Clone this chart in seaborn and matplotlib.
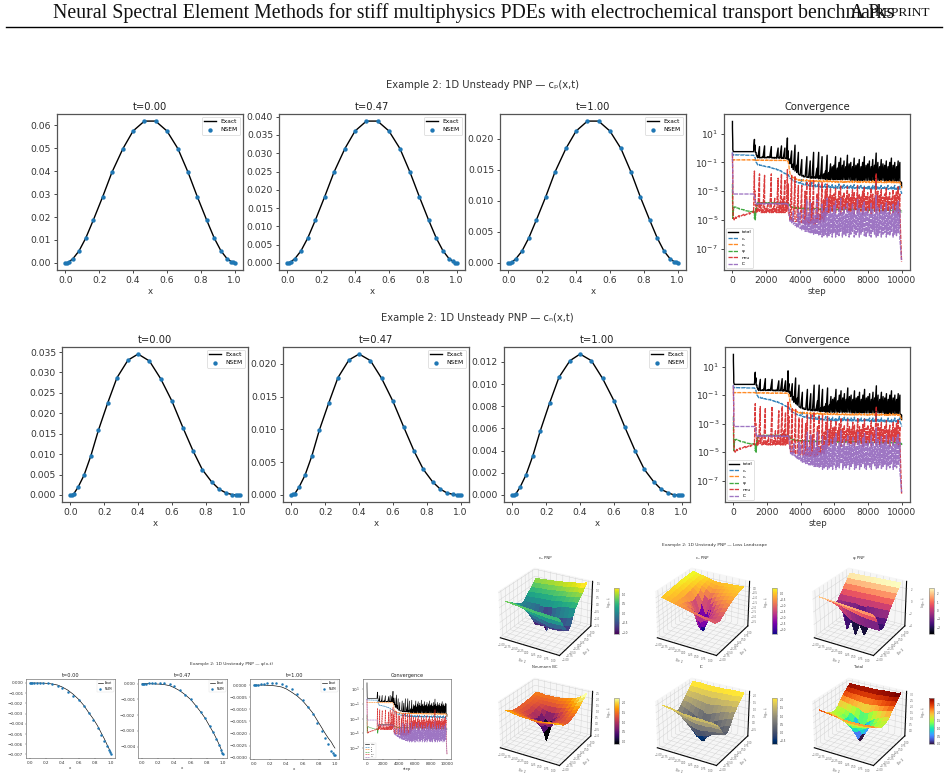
import numpy as np
import matplotlib
matplotlib.use("Agg")
import matplotlib.pyplot as plt
import seaborn as sns
from mpl_toolkits.mplot3d import Axes3D  # noqa: F401

WIDTH, HEIGHT = 948, 777

# ---- solution profiles -------------------------------------------------
x_nodes = [0.0, 0.01, 0.02, 0.045, 0.08, 0.12, 0.165, 0.22, 0.275, 0.34, 0.40, 0.467,
           0.533, 0.60, 0.665, 0.725, 0.78, 0.835, 0.88, 0.92, 0.955, 0.98, 0.99, 1.0]

cp_t0 = [0.0, 0.0001, 0.0004, 0.0019, 0.0052, 0.0108, 0.0187, 0.0288, 0.0395, 0.0498, 0.0575, 0.0618,
         0.0618, 0.0575, 0.0498, 0.0395, 0.0288, 0.0187, 0.0108, 0.0052, 0.0019, 0.0006, 0.0002, 0.0]
cp_t1 = [0.0, 0.0001, 0.0003, 0.0012, 0.0033, 0.0068, 0.0117, 0.0181, 0.0248, 0.0313, 0.0361, 0.0388,
         0.0388, 0.0361, 0.0313, 0.0248, 0.0181, 0.0117, 0.0068, 0.0033, 0.0012, 0.0004, 0.0001, 0.0]
cp_t2 = [0.0, 0.0, 0.0001, 0.0007, 0.0019, 0.004, 0.0069, 0.0106, 0.0146, 0.0184, 0.0212, 0.0228,
         0.0228, 0.0212, 0.0184, 0.0146, 0.0106, 0.0069, 0.004, 0.0019, 0.0007, 0.0002, 0.0001, 0.0]

cn_t0 = [0.0, 0.0001, 0.0003, 0.0019, 0.0048, 0.0095, 0.0158, 0.0225, 0.0287, 0.033, 0.0345, 0.0328,
         0.0285, 0.023, 0.0165, 0.0108, 0.0062, 0.0032, 0.0014, 0.0005, 0.0001, 0.0, 0.0, 0.0]
cn_t1 = [0.0, 0.0001, 0.0002, 0.0012, 0.003, 0.0059, 0.0099, 0.014, 0.0179, 0.0206, 0.0215, 0.0205,
         0.0178, 0.0143, 0.0103, 0.0067, 0.0039, 0.002, 0.0009, 0.0003, 0.0001, 0.0, 0.0, 0.0]
cn_t2 = [0.0, 0.0, 0.0001, 0.0007, 0.0018, 0.0035, 0.0058, 0.0083, 0.0106, 0.0121, 0.0127, 0.0121,
         0.0105, 0.0085, 0.0061, 0.004, 0.0023, 0.0012, 0.0005, 0.0002, 0.0, 0.0, 0.0, 0.0]

phi_exact_t0 = [0.0, 0.0, 0.0, 0.0, 0.0, 0.0, -0.00001, -0.00004, -0.0001, -0.0002, -0.0004, -0.0007,
                -0.0011, -0.0016, -0.0022, -0.0029, -0.0035, -0.0042, -0.0049, -0.0055, -0.0061, -0.0065, -0.0067, -0.0069]
phi_nsem_t0 = [0.00002, 0.00002, 0.00002, 0.00003, 0.00004, 0.00004, 0.00003, 0.0, -0.0001, -0.00025, -0.0005, -0.0009,
               -0.0013, -0.0017, -0.0023, -0.0029, -0.0036, -0.0044, -0.0051, -0.0057, -0.0062, -0.0066, -0.0068, -0.0070]
phi_exact_t1 = [0.0, 0.0, 0.0, 0.0, 0.0, -0.00001, -0.00002, -0.00003, -0.00006, -0.00012, -0.00026, -0.00045,
                -0.0007, -0.0010, -0.0014, -0.0018, -0.0022, -0.0027, -0.0031, -0.0035, -0.0039, -0.0042, -0.0044, -0.0045]
phi_nsem_t1 = [0.0, 0.0, 0.0, 0.00001, 0.00002, 0.00004, 0.00006, 0.00007, 0.00006, 0.0, -0.00016, -0.0004,
               -0.0007, -0.0010, -0.0014, -0.0018, -0.0022, -0.0027, -0.0031, -0.0035, -0.0039, -0.0042, -0.0044, -0.0045]
phi_exact_t2 = [0.0, 0.0, 0.0, 0.0, 0.0, 0.0, -0.00001, -0.00002, -0.00004, -0.00008, -0.00016, -0.0003,
                -0.00045, -0.00065, -0.0009, -0.00115, -0.00145, -0.00175, -0.002, -0.0022, -0.00235, -0.00250, -0.00255, -0.0026]
phi_nsem_t2 = [0.0, 0.0, 0.0, 0.00001, 0.00003, 0.00005, 0.00007, 0.00009, 0.0001, 0.00006, -0.00005, -0.00016,
               -0.00035, -0.0006, -0.0009, -0.0012, -0.00155, -0.0019, -0.0022, -0.00245, -0.0027, -0.0028, -0.0029, -0.0029]

# ---- training history (log10 of each loss, upper and lower envelope) ----
steps = [0, 20, 50, 100, 200, 400, 700, 1000, 1250, 1300,
         1350, 1400, 1450, 1500, 1600, 1700, 1800, 1900, 2000, 2100,
         2200, 2300, 2400, 2500, 2600, 2700, 2800, 2900, 3000, 3100,
         3200, 3250, 3300, 3350, 3400, 3500, 3600, 3700, 3800, 3900,
         4000, 4100, 4200, 4300, 4400, 4500, 4600, 4700, 4800, 4900,
         5000, 5100, 5200, 5300, 5400, 5500, 5600, 5700, 5800, 5900,
         6000, 6100, 6200, 6300, 6400, 6500, 6600, 6700, 6800, 6900,
         7000, 7100, 7200, 7300, 7400, 7500, 7600, 7700, 7800, 7900,
         8000, 8100, 8200, 8300, 8400, 8500, 8600, 8700, 8800, 8900,
         9000, 9100, 9200, 9300, 9400, 9500, 9600, 9700, 9800, 9900,
         10000]

total_hi = [1.85, 0.3, -0.25, -0.25, -0.25, -0.25, -0.25, -0.25, -0.25, 0.6,
            0.2, -0.3, -0.55, -0.65, 0.1, -0.65, -0.6, 0.15, -0.65, -0.6,
            -0.6, 0.1, -0.65, -0.65, -0.65, 0.0, -0.65, 0.15, -0.65, 0.0,
            -0.7, 0.7, -0.2, -0.75, -0.9, -0.2, -1.1, 0.2, -1.2, -0.3,
            -1.9, -0.8, -1.9, -2.0, -0.6, -2.0, -0.9, -2.0, -0.3, -2.0,
            -1.4, -0.3, -1.9, -0.6, -1.8, -1.6, -0.5, -1.7, -1.1, -1.3,
            -1.2, -0.6, -1.4, -1.0, -0.7, -1.2, -0.9, -1.3, -0.5, -1.1,
            -1.0, -1.3, -0.7, -1.2, -1.1, -0.8, -1.3, -1.0, -0.6, -1.2,
            -1.1, -0.9, -1.3, -0.8, -1.2, -0.35, -1.0, -1.3, -0.8, -1.1,
            -1.2, -0.9, -1.3, -1.0, -0.7, -1.2, -1.0, -1.3, -0.9, -1.0,
            -2.4]
total_lo = [1.4, -0.1, -0.25, -0.25, -0.25, -0.25, -0.25, -0.25, -0.25, -0.1,
            -0.3, -0.45, -0.6, -0.68, -0.68, -0.68, -0.68, -0.68, -0.68, -0.68,
            -0.68, -0.68, -0.7, -0.7, -0.7, -0.7, -0.7, -0.72, -0.72, -0.72,
            -0.75, -0.75, -0.8, -0.9, -1.1, -1.35, -1.5, -1.6, -1.7, -1.8,
            -1.9, -1.95, -2.0, -2.0, -2.05, -2.05, -2.1, -2.1, -2.1, -2.1,
            -2.1, -2.15, -2.15, -2.15, -2.15, -2.2, -2.2, -2.2, -2.2, -2.2,
            -2.2, -2.2, -2.2, -2.2, -2.2, -2.2, -2.2, -2.2, -2.2, -2.2,
            -2.25, -2.25, -2.25, -2.25, -2.25, -2.25, -2.25, -2.25, -2.25, -2.25,
            -2.25, -2.25, -2.25, -2.25, -2.25, -2.25, -2.25, -2.25, -2.25, -2.25,
            -2.3, -2.3, -2.3, -2.3, -2.3, -2.3, -2.3, -2.3, -2.3, -2.3,
            -2.7]

cp_hi = [-0.3, -0.45, -0.47, -0.47, -0.47, -0.48, -0.48, -0.5, -0.5, -0.55,
         -0.7, -0.9, -1.05, -1.15, -1.15, -1.2, -1.2, -1.25, -1.3, -1.3,
         -1.3, -1.35, -1.4, -1.45, -1.45, -1.5, -1.55, -1.6, -1.7, -1.75,
         -1.8, -1.85, -1.85, -1.95, -2.05, -2.15, -2.25, -2.3, -2.35, -2.4,
         -2.4, -2.2, -2.5, -2.55, -2.3, -2.55, -2.6, -2.4, -2.6, -2.55,
         -2.65, -2.4, -2.65, -2.6, -2.7, -2.5, -2.7, -2.6, -2.7, -2.55,
         -2.7, -2.6, -2.7, -2.5, -2.7, -2.65, -2.55, -2.7, -2.6, -2.7,
         -2.6, -2.7, -2.55, -2.75, -2.65, -2.7, -2.6, -2.75, -2.65, -2.7,
         -2.7, -2.6, -2.75, -2.6, -2.7, -2.4, -2.7, -2.75, -2.6, -2.75,
         -2.7, -2.75, -2.6, -2.8, -2.7, -2.75, -2.6, -2.8, -2.7, -2.6,
         -3.1]
cp_lo = [-0.4, -0.47, -0.48, -0.48, -0.48, -0.49, -0.5, -0.5, -0.52, -0.6,
         -0.8, -1.0, -1.1, -1.18, -1.2, -1.22, -1.25, -1.27, -1.3, -1.33,
         -1.35, -1.38, -1.42, -1.47, -1.5, -1.55, -1.58, -1.65, -1.72, -1.78,
         -1.82, -1.88, -1.9, -2.0, -2.1, -2.2, -2.28, -2.33, -2.38, -2.43,
         -2.45, -2.5, -2.55, -2.58, -2.6, -2.62, -2.65, -2.67, -2.68, -2.7,
         -2.7, -2.72, -2.73, -2.74, -2.75, -2.76, -2.77, -2.78, -2.78, -2.79,
         -2.8, -2.8, -2.8, -2.8, -2.8, -2.8, -2.8, -2.8, -2.8, -2.8,
         -2.82, -2.82, -2.82, -2.82, -2.82, -2.82, -2.82, -2.82, -2.82, -2.82,
         -2.85, -2.85, -2.85, -2.85, -2.85, -2.85, -2.85, -2.85, -2.85, -2.85,
         -2.88, -2.88, -2.88, -2.88, -2.88, -2.88, -2.88, -2.88, -2.88, -2.88,
         -3.2]

cn_hi = [-0.75, -0.8, -0.82, -0.82, -0.82, -0.82, -0.82, -0.82, -0.82, -0.82,
         -0.83, -0.83, -0.84, -0.84, -0.84, -0.84, -0.84, -0.84, -0.84, -0.84,
         -0.85, -0.85, -0.85, -0.85, -0.85, -0.85, -0.85, -0.85, -0.85, -0.85,
         -0.86, -0.88, -0.95, -1.3, -1.75, -1.95, -2.05, -2.1, -2.15, -2.2,
         -2.2, -2.25, -2.2, -2.27, -2.2, -2.28, -2.22, -2.28, -2.24, -2.3,
         -2.25, -2.3, -2.22, -2.3, -2.25, -2.32, -2.24, -2.3, -2.27, -2.33,
         -2.28, -2.33, -2.25, -2.34, -2.3, -2.28, -2.35, -2.27, -2.33, -2.3,
         -2.35, -2.28, -2.34, -2.3, -2.36, -2.27, -2.33, -2.36, -2.3, -2.34,
         -2.36, -2.3, -2.35, -2.28, -2.36, -2.2, -2.33, -2.36, -2.28, -2.35,
         -2.37, -2.3, -2.36, -2.28, -2.38, -2.3, -2.36, -2.32, -2.38, -2.34,
         -2.7]
cn_lo = [-0.8, -0.82, -0.83, -0.83, -0.83, -0.83, -0.83, -0.83, -0.83, -0.84,
         -0.85, -0.85, -0.85, -0.85, -0.86, -0.86, -0.86, -0.86, -0.86, -0.86,
         -0.87, -0.87, -0.87, -0.87, -0.87, -0.87, -0.87, -0.87, -0.87, -0.87,
         -0.88, -0.9, -1.0, -1.4, -1.8, -2.0, -2.1, -2.15, -2.2, -2.25,
         -2.27, -2.28, -2.29, -2.3, -2.3, -2.31, -2.32, -2.32, -2.33, -2.33,
         -2.34, -2.34, -2.35, -2.35, -2.35, -2.36, -2.36, -2.36, -2.37, -2.37,
         -2.37, -2.38, -2.38, -2.38, -2.38, -2.39, -2.39, -2.39, -2.39, -2.39,
         -2.4, -2.4, -2.4, -2.4, -2.4, -2.4, -2.4, -2.4, -2.4, -2.4,
         -2.41, -2.41, -2.41, -2.41, -2.41, -2.41, -2.41, -2.41, -2.41, -2.41,
         -2.42, -2.42, -2.42, -2.42, -2.42, -2.42, -2.42, -2.42, -2.42, -2.42,
         -2.8]

psi_hi = [-2.5, -4.8, -4.3, -4.1, -4.1, -4.2, -4.3, -4.4, -4.4, -4.5,
          -4.4, -4.2, -3.9, -3.8, -3.8, -3.8, -3.8, -3.8, -3.8, -3.8,
          -3.8, -3.8, -3.8, -3.8, -3.8, -3.8, -3.8, -3.8, -3.8, -3.8,
          -3.8, -3.8, -3.85, -3.9, -4.0, -4.1, -4.1, -4.15, -4.15, -4.15,
          -4.18, -4.18, -4.18, -4.2, -4.2, -4.2, -4.2, -4.2, -4.22, -4.22,
          -4.2, -4.22, -4.24, -4.2, -4.24, -4.22, -4.25, -4.22, -4.25, -4.25,
          -4.25, -4.25, -4.25, -4.25, -4.25, -4.25, -4.25, -4.25, -4.25, -4.25,
          -4.25, -4.25, -4.25, -4.25, -4.25, -4.25, -4.25, -4.25, -4.25, -4.25,
          -4.3, -4.3, -4.3, -4.3, -4.3, -4.3, -4.3, -4.3, -4.3, -4.3,
          -4.3, -4.3, -4.3, -4.3, -4.3, -4.3, -4.3, -4.3, -4.3, -4.3,
          -4.4]
psi_lo = [-3.0, -4.9, -4.4, -4.15, -4.15, -4.25, -4.35, -4.45, -4.5, -4.9,
          -5.0, -4.4, -4.0, -3.85, -3.85, -3.85, -3.85, -3.85, -3.85, -3.85,
          -3.85, -3.85, -3.85, -3.85, -3.85, -3.85, -3.85, -3.85, -3.85, -3.85,
          -3.85, -3.85, -3.9, -3.95, -4.05, -4.15, -4.15, -4.2, -4.2, -4.2,
          -4.22, -4.22, -4.22, -4.25, -4.25, -4.25, -4.25, -4.25, -4.27, -4.27,
          -4.27, -4.28, -4.28, -4.28, -4.28, -4.3, -4.3, -4.3, -4.3, -4.3,
          -4.3, -4.3, -4.3, -4.3, -4.3, -4.3, -4.3, -4.3, -4.3, -4.3,
          -4.3, -4.3, -4.3, -4.3, -4.3, -4.3, -4.3, -4.3, -4.3, -4.3,
          -4.35, -4.35, -4.35, -4.35, -4.35, -4.35, -4.35, -4.35, -4.35, -4.35,
          -4.35, -4.35, -4.35, -4.35, -4.35, -4.35, -4.35, -4.35, -4.35, -4.35,
          -4.5]

neu_hi = [-0.4, -2.0, -4.8, -4.9, -4.8, -4.7, -4.6, -4.5, -4.4, -1.6,
          -3.0, -4.0, -4.3, -4.2, -1.8, -3.8, -4.3, -1.9, -4.2, -3.8,
          -4.3, -1.8, -4.2, -3.5, -4.2, -2.1, -4.0, -1.8, -3.5, -2.2,
          -3.8, -1.5, -2.5, -4.5, -4.8, -1.9, -5.0, -2.0, -5.1, -2.6,
          -5.2, -2.6, -5.1, -3.0, -2.4, -5.0, -2.3, -3.8, -2.2, -5.0,
          -3.2, -2.5, -4.6, -2.4, -3.6, -2.9, -2.5, -3.4, -2.8, -3.3,
          -3.2, -2.8, -3.5, -3.0, -2.6, -3.3, -3.1, -3.5, -2.7, -3.2,
          -3.4, -2.9, -3.1, -3.5, -2.6, -3.2, -3.4, -3.0, -2.7, -3.3,
          -3.1, -3.4, -2.8, -3.2, -3.5, -1.8, -3.0, -3.3, -2.9, -3.4,
          -3.2, -2.8, -3.4, -3.1, -3.5, -2.9, -3.3, -3.0, -2.7, -3.2,
          -7.9]
neu_lo = [-0.5, -4.0, -4.9, -5.0, -4.9, -4.8, -4.7, -4.6, -4.5, -3.0,
          -4.0, -4.5, -4.5, -4.4, -4.4, -4.5, -4.5, -4.5, -4.5, -4.5,
          -4.5, -4.5, -4.5, -4.5, -4.5, -4.5, -4.5, -4.5, -4.5, -4.5,
          -4.4, -4.2, -4.5, -4.8, -5.0, -5.0, -5.1, -5.1, -5.1, -5.1,
          -5.2, -5.2, -5.2, -5.3, -5.2, -5.3, -5.3, -5.2, -5.3, -5.3,
          -5.2, -5.0, -5.2, -5.0, -5.1, -4.8, -4.6, -4.5, -4.4, -4.4,
          -4.3, -4.5, -4.2, -4.4, -4.6, -4.3, -4.5, -4.2, -4.4, -4.5,
          -4.4, -4.2, -4.6, -4.3, -4.5, -4.2, -4.4, -4.6, -4.3, -4.4,
          -4.5, -4.3, -4.6, -4.2, -4.4, -4.5, -4.3, -4.6, -4.2, -4.4,
          -4.5, -4.3, -4.4, -4.6, -4.2, -4.5, -4.3, -4.4, -4.6, -4.4,
          -7.9]

ic_hi = [-0.3, -2.0, -3.2, -3.2, -3.2, -3.2, -3.2, -3.2, -3.2, -3.3,
         -3.6, -3.85, -3.85, -3.85, -3.85, -3.85, -3.85, -3.85, -3.85, -3.85,
         -3.85, -3.85, -3.85, -3.85, -3.85, -3.85, -3.85, -3.85, -3.85, -3.85,
         -3.85, -3.85, -3.9, -4.3, -4.9, -5.0, -4.4, -5.2, -5.3, -4.3,
         -4.5, -5.4, -4.2, -5.0, -3.6, -4.6, -3.8, -5.0, -4.2, -4.7,
         -3.6, -4.6, -5.0, -3.9, -4.5, -4.2, -3.5, -4.6, -4.1, -4.5,
         -4.0, -3.7, -4.6, -4.3, -3.5, -4.5, -4.1, -4.6, -3.8, -4.4,
         -4.5, -3.9, -4.3, -4.6, -3.6, -4.2, -4.5, -4.0, -3.7, -4.4,
         -4.2, -4.6, -3.8, -4.3, -4.6, -3.3, -4.1, -4.5, -3.9, -4.4,
         -4.3, -3.8, -4.5, -4.1, -4.6, -3.9, -4.4, -4.0, -3.7, -4.3,
         -7.8]
ic_lo = [-0.5, -3.0, -3.2, -3.2, -3.2, -3.2, -3.2, -3.2, -3.25, -3.4,
         -3.7, -3.9, -3.9, -3.9, -3.9, -3.9, -3.9, -3.9, -3.9, -3.9,
         -3.9, -3.9, -3.9, -3.9, -3.9, -3.9, -3.9, -3.9, -3.9, -3.9,
         -3.9, -3.9, -4.0, -4.6, -5.1, -5.2, -5.3, -5.4, -5.5, -5.5,
         -5.6, -5.7, -5.7, -5.8, -5.8, -5.9, -5.9, -5.9, -6.0, -6.0,
         -6.0, -6.1, -6.0, -6.2, -6.1, -6.0, -6.2, -6.1, -6.0, -6.2,
         -5.9, -6.2, -6.0, -6.1, -5.8, -6.2, -6.0, -6.1, -5.9, -6.2,
         -6.0, -5.8, -6.2, -6.1, -5.9, -6.2, -6.0, -5.8, -6.1, -6.2,
         -5.9, -6.1, -6.2, -5.8, -6.0, -6.2, -6.1, -5.9, -6.2, -6.0,
         -5.9, -6.2, -6.0, -6.1, -5.8, -6.2, -6.0, -6.1, -5.9, -6.3,
         -7.8]

# ---- loss surfaces on a 13x13 grid: rows dir 2 = -1..1, columns dir 1 = -1..1 ----
grid_line = [-1.0, -0.833, -0.667, -0.5, -0.333, -0.167, 0.0, 0.167, 0.333, 0.5, 0.667, 0.833, 1.0]
dir_ticks = [-1.0, -0.75, -0.5, -0.25, 0.0, 0.25, 0.5, 0.75, 1.0]

surf_cp = [[0.9, 0.88, 0.85, 0.85, 0.82, 0.8, 0.78, 0.75, 0.75, 0.72, 0.72, 0.7, 0.7],
           [0.72, 0.7, 0.66, 0.62, 0.58, 0.54, 0.48, 0.45, 0.42, 0.38, 0.38, 0.36, 0.36],
           [0.55, 0.52, 0.46, 0.38, 0.28, 0.18, 0.1, 0.02, -0.03, -0.08, -0.08, -0.05, -0.05],
           [0.38, 0.34, 0.25, 0.12, -0.05, -0.25, -0.35, -0.42, -0.52, -0.58, -0.55, -0.5, -0.45],
           [0.22, 0.16, 0.02, -0.22, -0.6, -0.72, -0.72, -0.82, -0.86, -0.86, -0.82, -0.76, -0.7],
           [0.08, 0.0, -0.2, -0.5, -1.1, -1.0, -1.0, -0.95, -0.9, -0.8, -0.7, -0.6, -0.55],
           [-0.05, -0.1, -0.25, -0.4, -0.6, -0.9, -1.5, -0.8, -0.6, -0.4, -0.3, -0.2, -0.1],
           [0.0, 0.0, 0.0, 0.02, 0.03, 0.0, 0.05, 0.12, 0.18, 0.24, 0.3, 0.35, 0.4],
           [0.2, 0.22, 0.25, 0.27, 0.3, 0.3, 0.33, 0.38, 0.42, 0.48, 0.52, 0.58, 0.62],
           [0.4, 0.42, 0.45, 0.48, 0.5, 0.52, 0.55, 0.6, 0.65, 0.7, 0.75, 0.8, 0.85],
           [0.6, 0.62, 0.65, 0.68, 0.7, 0.73, 0.77, 0.8, 0.85, 0.9, 0.95, 1.0, 1.05],
           [0.8, 0.82, 0.85, 0.88, 0.9, 0.93, 0.97, 1.0, 1.05, 1.1, 1.15, 1.2, 1.28],
           [1.0, 1.02, 1.05, 1.07, 1.1, 1.13, 1.17, 1.2, 1.25, 1.3, 1.35, 1.42, 1.5]]
surf_cn = [[0.0, -0.1, -0.2, -0.3, -0.4, -0.5, -0.6, -0.7, -0.8, -0.9, -1.0, -1.1, -1.2],
           [0.05, -0.05, -0.15, -0.3, -0.45, -0.6, -0.8, -0.95, -1.05, -1.15, -1.2, -1.25, -1.3],
           [0.1, 0.0, -0.15, -0.3, -0.5, -0.8, -1.2, -1.4, -1.5, -1.55, -1.5, -1.4, -1.3],
           [0.15, 0.05, -0.1, -0.3, -0.6, -1.1, -2.0, -2.3, -2.0, -1.7, -1.5, -1.3, -1.1],
           [0.2, 0.1, -0.05, -0.3, -0.7, -1.6, -3.0, -3.0, -2.3, -1.7, -1.3, -1.1, -0.9],
           [0.25, 0.15, 0.0, -0.25, -0.8, -2.0, -3.6, -3.2, -2.1, -1.4, -1.05, -0.85, -0.7],
           [0.3, 0.2, 0.05, -0.2, -0.7, -2.1, -4.0, -2.6, -1.4, -1.0, -0.8, -0.6, -0.5],
           [0.35, 0.25, 0.1, -0.1, -0.5, -1.2, -2.4, -1.4, -0.95, -0.7, -0.55, -0.45, -0.35],
           [0.4, 0.3, 0.15, 0.0, -0.3, -0.7, -1.2, -0.9, -0.65, -0.5, -0.35, -0.25, -0.2],
           [0.42, 0.32, 0.2, 0.05, -0.15, -0.4, -0.7, -0.6, -0.45, -0.3, -0.2, -0.12, -0.1],
           [0.45, 0.35, 0.25, 0.1, -0.05, -0.2, -0.4, -0.35, -0.25, -0.15, -0.1, -0.05, 0.0],
           [0.47, 0.38, 0.28, 0.15, 0.02, -0.1, -0.2, -0.2, -0.15, -0.08, -0.02, 0.02, 0.05],
           [0.5, 0.4, 0.3, 0.2, 0.1, 0.0, -0.05, -0.05, 0.0, 0.02, 0.05, 0.08, 0.1]]
surf_phi = [[2.3, 2.25, 2.2, 2.15, 2.1, 2.05, 2.0, 1.95, 1.9, 1.85, 1.8, 1.75, 1.7],
            [1.85, 1.8, 1.75, 1.7, 1.65, 1.55, 1.45, 1.4, 1.3, 1.2, 1.1, 1.05, 1.0],
            [1.4, 1.35, 1.3, 1.2, 1.0, 0.8, 0.6, 0.45, 0.3, 0.2, 0.1, 0.05, 0.0],
            [0.9, 0.8, 0.6, 0.2, -0.5, -1.0, -1.3, -1.5, -1.6, -1.7, -1.7, -1.7, -1.7],
            [0.45, 0.3, 0.0, -0.8, -3.4, -1.7, -4.0, -1.9, -3.6, -2.0, -2.0, -1.9, -1.9],
            [0.0, -0.2, -0.7, -1.5, -1.9, -3.0, -1.9, -3.4, -1.9, -1.8, -1.7, -1.6, -1.6],
            [-0.5, -0.6, -0.9, -1.2, -1.4, -1.5, -2.6, -1.6, -1.4, -1.2, -1.1, -1.0, -1.0],
            [-0.3, -0.3, -0.28, -0.25, -0.22, -0.2, -0.18, -0.15, -0.12, -0.1, -0.08, -0.05, 0.0],
            [0.3, 0.32, 0.35, 0.38, 0.4, 0.42, 0.45, 0.47, 0.5, 0.52, 0.55, 0.57, 0.6],
            [0.9, 0.92, 0.95, 0.98, 1.0, 1.02, 1.05, 1.07, 1.1, 1.12, 1.15, 1.17, 1.2],
            [1.5, 1.52, 1.55, 1.58, 1.6, 1.62, 1.65, 1.67, 1.7, 1.72, 1.75, 1.77, 1.8],
            [2.1, 2.12, 2.15, 2.18, 2.2, 2.22, 2.25, 2.27, 2.3, 2.32, 2.35, 2.37, 2.4],
            [2.7, 2.72, 2.75, 2.78, 2.8, 2.82, 2.85, 2.87, 2.9, 2.92, 2.95, 2.97, 3.0]]
surf_neu = [[1.9, 1.85, 1.8, 1.75, 1.7, 1.7, 1.7, 1.7, 1.7, 1.75, 1.8, 1.85, 1.9],
            [1.7, 1.65, 1.6, 1.55, 1.5, 1.5, 1.45, 1.45, 1.5, 1.55, 1.6, 1.65, 1.7],
            [1.55, 1.5, 1.45, 1.4, 1.3, 1.25, 1.2, 1.25, 1.3, 1.35, 1.4, 1.45, 1.5],
            [1.45, 1.4, 1.35, 1.25, 1.1, 1.0, 0.95, 1.0, 1.1, 1.2, 1.3, 1.35, 1.4],
            [1.4, 1.35, 1.3, 1.15, 0.95, 0.75, 0.6, 0.75, 0.95, 1.1, 1.25, 1.3, 1.35],
            [1.4, 1.35, 1.25, 1.1, 0.85, 0.4, -0.1, 0.45, 0.85, 1.1, 1.25, 1.3, 1.4],
            [1.4, 1.35, 1.25, 1.1, 0.8, 0.2, -1.0, 0.25, 0.8, 1.1, 1.25, 1.4, 1.5],
            [1.4, 1.35, 1.3, 1.15, 0.95, 0.65, 0.45, 0.7, 0.95, 1.15, 1.35, 1.5, 1.6],
            [1.45, 1.4, 1.35, 1.25, 1.1, 1.0, 0.95, 1.0, 1.15, 1.3, 1.45, 1.6, 1.75],
            [1.45, 1.4, 1.35, 1.3, 1.25, 1.25, 1.25, 1.3, 1.35, 1.45, 1.6, 1.75, 1.9],
            [1.5, 1.45, 1.4, 1.4, 1.4, 1.4, 1.4, 1.45, 1.5, 1.6, 1.75, 1.9, 2.1],
            [1.5, 1.5, 1.45, 1.45, 1.45, 1.5, 1.5, 1.55, 1.6, 1.7, 1.85, 2.05, 2.3],
            [1.6, 1.6, 1.55, 1.55, 1.55, 1.55, 1.6, 1.65, 1.7, 1.8, 1.95, 2.15, 2.5]]
surf_ic = [[2.0, 1.95, 1.9, 1.85, 1.8, 1.75, 1.75, 1.7, 1.7, 1.7, 1.65, 1.65, 1.6],
           [1.8, 1.75, 1.7, 1.65, 1.55, 1.5, 1.45, 1.4, 1.4, 1.4, 1.4, 1.4, 1.35],
           [1.6, 1.55, 1.45, 1.35, 1.2, 1.1, 1.0, 0.95, 0.95, 0.95, 1.0, 1.0, 1.0],
           [1.35, 1.3, 1.15, 0.95, 0.7, 0.5, 0.4, 0.35, 0.4, 0.45, 0.5, 0.55, 0.6],
           [1.1, 1.0, 0.8, 0.5, 0.2, -0.05, -0.3, -0.2, -0.1, 0.05, 0.15, 0.25, 0.3],
           [0.9, 0.75, 0.5, 0.2, -0.2, -0.55, -0.75, -0.5, -0.25, -0.05, 0.1, 0.2, 0.3],
           [0.8, 0.65, 0.45, 0.2, -0.1, -0.5, -1.0, -0.45, -0.05, 0.2, 0.35, 0.5, 0.6],
           [1.0, 0.9, 0.75, 0.6, 0.4, 0.2, 0.05, 0.25, 0.45, 0.6, 0.75, 0.85, 0.95],
           [1.25, 1.2, 1.1, 1.0, 0.9, 0.8, 0.75, 0.85, 0.95, 1.05, 1.15, 1.2, 1.3],
           [1.5, 1.45, 1.4, 1.35, 1.3, 1.25, 1.25, 1.3, 1.35, 1.4, 1.45, 1.5, 1.55],
           [1.75, 1.7, 1.7, 1.65, 1.65, 1.6, 1.6, 1.65, 1.65, 1.7, 1.7, 1.75, 1.8],
           [1.95, 1.95, 1.95, 1.9, 1.9, 1.9, 1.9, 1.9, 1.95, 1.95, 1.95, 2.0, 2.0],
           [2.2, 2.2, 2.2, 2.15, 2.15, 2.15, 2.15, 2.15, 2.15, 2.2, 2.2, 2.2, 2.2]]
surf_total = [[2.5, 2.45, 2.4, 2.35, 2.3, 2.25, 2.2, 2.2, 2.2, 2.2, 2.2, 2.25, 2.3],
              [2.25, 2.2, 2.15, 2.1, 2.05, 2.0, 1.9, 1.9, 1.9, 1.9, 1.95, 2.0, 2.05],
              [2.0, 1.95, 1.9, 1.85, 1.75, 1.65, 1.55, 1.55, 1.6, 1.65, 1.7, 1.8, 1.85],
              [1.8, 1.75, 1.7, 1.6, 1.45, 1.3, 1.15, 1.2, 1.3, 1.4, 1.5, 1.6, 1.7],
              [1.65, 1.6, 1.5, 1.35, 1.15, 0.85, 0.6, 0.85, 1.1, 1.25, 1.4, 1.5, 1.6],
              [1.55, 1.5, 1.4, 1.2, 0.9, 0.4, -0.1, 0.4, 0.95, 1.2, 1.35, 1.5, 1.6],
              [1.55, 1.5, 1.4, 1.2, 0.8, 0.15, -0.5, 0.2, 0.85, 1.2, 1.45, 1.6, 1.7],
              [1.7, 1.65, 1.55, 1.4, 1.2, 0.9, 0.7, 0.95, 1.2, 1.45, 1.6, 1.75, 1.85],
              [2.05, 2.0, 1.9, 1.85, 1.75, 1.65, 1.6, 1.7, 1.8, 1.9, 2.0, 2.1, 2.2],
              [2.3, 2.25, 2.2, 2.15, 2.1, 2.05, 2.05, 2.1, 2.15, 2.2, 2.3, 2.35, 2.45],
              [2.55, 2.5, 2.45, 2.45, 2.4, 2.4, 2.4, 2.4, 2.45, 2.5, 2.55, 2.6, 2.65],
              [2.75, 2.7, 2.7, 2.65, 2.65, 2.65, 2.65, 2.65, 2.7, 2.7, 2.75, 2.8, 2.85],
              [2.9, 2.9, 2.9, 2.9, 2.9, 2.9, 2.9, 2.9, 2.95, 2.95, 3.0, 3.0, 3.1]]

header_text = "Neural Spectral Element Methods for stiff multiphysics PDEs with electrochemical transport benchmarks"
time_labels = ["t=0.00", "t=0.47", "t=1.00"]
loss_labels = ["total", "cₚ", "cₙ", "φ", "neu", "IC"]
loss_colors = ["black", "#1f77b4", "#ff7f0e", "#2ca02c", "#d62728", "#9467bd"]

fig = plt.figure(figsize=(WIDTH / 100, HEIGHT / 100), dpi=100, facecolor="white")


def frame(x0, y0, x1, y1, **kwargs):
    """Axes placed by figure pixels, origin at the top left."""
    return fig.add_axes([x0 / WIDTH, 1 - y1 / HEIGHT, (x1 - x0) / WIDTH, (y1 - y0) / HEIGHT], **kwargs)


def style_axes(ax, tick, lw):
    for spine in ax.spines.values():
        spine.set_linewidth(lw)
        spine.set_color("#555555")
    ax.tick_params(labelsize=tick, length=tick * 0.35, width=lw * 0.7, pad=tick * 0.3, colors="#333333")


def profile(box, exact, nsem, title, yticks, yfmt, scale=1.0, dot=10.0, title_size=7.2):
    ax = frame(*box)
    sns.lineplot(x=x_nodes, y=exact, color="black", linewidth=1.0 * scale, ax=ax, label="Exact",
                 estimator=None, sort=False)
    sns.scatterplot(x=x_nodes, y=nsem, color="#1f77b4", s=dot, linewidth=0, ax=ax, label="NSEM", zorder=3)
    style_axes(ax, 6.6 * scale, 0.9 * scale)
    ax.set_xticks([0.0, 0.2, 0.4, 0.6, 0.8, 1.0])
    ax.set_yticks(yticks)
    ax.set_yticklabels([yfmt.format(v).replace("-", "\u2212") for v in yticks])
    ax.set_title(title, fontsize=title_size, pad=3.2 * scale, color="#222222")
    ax.set_xlabel("x", fontsize=6.2 * scale, labelpad=1.5 * scale, color="#333333")
    ax.legend(loc="upper right", fontsize=4.2 * scale, borderpad=0.4, handlelength=2, labelspacing=0.5,
              frameon=True, edgecolor="#cccccc", framealpha=0.8, fancybox=True).get_frame().set_linewidth(0.5 * scale)
    return ax


def zigzag(hi, lo):
    xs = np.repeat(steps, 2)
    ys = 10.0 ** np.column_stack([hi, lo]).ravel()
    return xs, ys


def convergence(box, scale=1.0, title_size=7.2):
    ax = frame(*box)
    series = [(total_hi, total_lo), (cp_hi, cp_lo), (cn_hi, cn_lo), (psi_hi, psi_lo), (neu_hi, neu_lo), (ic_hi, ic_lo)]
    for i, ((hi, lo), name, color) in enumerate(zip(series, loss_labels, loss_colors)):
        xs, ys = zigzag(hi, lo)
        sns.lineplot(x=xs, y=ys, color=color, ax=ax, label=name, estimator=None, sort=False,
                     linewidth=(1.0 if i == 0 else 0.95) * scale,
                     linestyle="-" if i == 0 else (0, (3.2, 0.8)), alpha=1.0 if i == 0 else 0.9)
    ax.set_yscale("log")
    ax.set_ylim(10 ** -8.49, 10 ** 2.37)
    ax.set_xlim(-500, 10500)
    ax.set_yticks([1e-7, 1e-5, 1e-3, 1e-1, 1e1])
    ax.minorticks_off()
    ax.set_xticks([0, 2000, 4000, 6000, 8000, 10000])
    style_axes(ax, 6.6 * scale, 0.9 * scale)
    ax.set_title("Convergence", fontsize=title_size, pad=3.2 * scale, color="#222222")
    ax.set_xlabel("step", fontsize=6.2 * scale, labelpad=1.5 * scale, color="#333333")
    ax.legend(loc="lower left", fontsize=3.1 * scale, borderpad=0.4, handlelength=2.4, labelspacing=0.55,
              frameon=True, edgecolor="#cccccc", framealpha=0.8).get_frame().set_linewidth(0.5 * scale)
    return ax


def landscape(box, title_y, cbox, values, cmap, title, zticks, cticks):
    ax = frame(*box, projection="3d")
    ax.patch.set_alpha(0)
    X, Y = np.meshgrid(grid_line, grid_line)
    Z = np.array(values)
    surf = ax.plot_surface(X, Y, Z, cmap=cmap, rstride=1, cstride=1, linewidth=0, antialiased=False, shade=False)
    ax.view_init(elev=27, azim=-60)
    ax.set_xticks(dir_ticks)
    ax.set_yticks(dir_ticks)
    ax.set_zticks(zticks)
    ax.tick_params(labelsize=1.8, pad=-5.5, colors="#666666", width=0.2, length=1)
    for axis in (ax.xaxis, ax.yaxis, ax.zaxis):
        axis._axinfo["grid"]["linewidth"] = 0.3
        axis._axinfo["grid"]["color"] = "#d0d0d0"
        axis._axinfo["axisline"]["linewidth"] = 0.3
        axis._axinfo["axisline"]["color"] = "#b8b8b8"
        axis._axinfo["tick"]["linewidth"] = {True: 0.2, False: 0.1}
        axis.set_pane_color((0.965, 0.965, 0.965, 1.0))
    ax.set_xlabel("Dir 1", fontsize=2.2, labelpad=-13.5, color="#555555")
    ax.set_ylabel("Dir 2", fontsize=2.2, labelpad=-13.5, color="#555555")
    ax.set_zlabel("log$_{10}$ L", fontsize=2.2, labelpad=-13, color="#555555")
    fig.text((box[0] + box[2]) / 2 / WIDTH, 1 - title_y / HEIGHT, title, fontsize=2.8, ha="center", va="center", color="#333333")
    cax = frame(*cbox)
    cb = fig.colorbar(surf, cax=cax)
    low, high = surf.get_clim()
    cb.set_ticks([t for t in cticks if low <= t <= high])
    cb.ax.tick_params(labelsize=1.9, length=1, width=0.2, pad=0.8, colors="#444444")
    cb.outline.set_linewidth(0.5)
    cb.outline.set_edgecolor("#999999")


# ---- page header ----
fig.text(53 / WIDTH, 1 - 13 / HEIGHT, header_text, family="Liberation Serif", fontsize=14.35, va="center", color="#111111")
fig.text(850 / WIDTH, 1 - 13 / HEIGHT, "A P", family="Liberation Serif", fontsize=14.35, va="center", color="#111111")
fig.text(930 / WIDTH, 1 - 13.5 / HEIGHT, "REPRINT", family="Liberation Serif", fontsize=9.6, va="center", ha="right", color="#111111")
fig.add_artist(plt.Line2D([6 / WIDTH, 942 / WIDTH], [1 - 27 / HEIGHT, 1 - 27 / HEIGHT], color="black", lw=1.0))

# ---- row 1: cₚ ----
fig.text(482 / WIDTH, 1 - 85 / HEIGHT, "Example 2: 1D Unsteady PNP — cₚ(x,t)", fontsize=7.2, ha="center", va="center", color="#333333")
profile((57, 114, 243, 270), cp_t0, cp_t0, time_labels[0], [0.0, 0.01, 0.02, 0.03, 0.04, 0.05, 0.06], "{:.2f}")
profile((279, 114, 465, 270), cp_t1, cp_t1, time_labels[1],
        [0.0, 0.005, 0.01, 0.015, 0.02, 0.025, 0.03, 0.035, 0.04], "{:.3f}")
profile((500, 114, 686, 270), cp_t2, cp_t2, time_labels[2], [0.0, 0.005, 0.01, 0.015, 0.02], "{:.3f}")
convergence((724, 114, 910, 270))

# ---- row 2: cₙ ----
fig.text(477 / WIDTH, 1 - 318 / HEIGHT, "Example 2: 1D Unsteady PNP — cₙ(x,t)", fontsize=7.2, ha="center", va="center", color="#333333")
profile((62, 347, 248, 502), cn_t0, cn_t0, time_labels[0], [0.0, 0.005, 0.01, 0.015, 0.02, 0.025, 0.03, 0.035], "{:.3f}")
profile((283, 347, 469, 502), cn_t1, cn_t1, time_labels[1], [0.0, 0.005, 0.01, 0.015, 0.02], "{:.3f}")
profile((504, 347, 690, 502), cn_t2, cn_t2, time_labels[2], [0.0, 0.002, 0.004, 0.006, 0.008, 0.01, 0.012], "{:.3f}")
convergence((725, 347, 910, 502))

# ---- row 3: φ ----
fig.text(231 / WIDTH, 1 - 664 / HEIGHT, "Example 2: 1D Unsteady PNP — φ(x,t)", fontsize=3.2, ha="center", va="center", color="#333333")
small = 0.45
profile((26, 679, 115, 758), phi_exact_t0, phi_nsem_t0, time_labels[0],
        [0.0, -0.001, -0.002, -0.003, -0.004, -0.005, -0.006, -0.007], "{:.3f}", small, 3.2, 3.6)
profile((138, 679, 227, 758), phi_exact_t1, phi_nsem_t1, time_labels[1],
        [0.0, -0.001, -0.002, -0.003, -0.004], "{:.3f}", small, 3.2, 3.6)
profile((250, 679, 339, 759), phi_exact_t2, phi_nsem_t2, time_labels[2],
        [0.0, -0.0005, -0.001, -0.0015, -0.002, -0.0025, -0.003], "{:.4f}", small, 3.2, 3.6)
convergence((363, 679, 451, 759), small, 3.6)

# ---- loss landscapes ----
fig.text(715 / WIDTH, 1 - 545 / HEIGHT, "Example 2: 1D Unsteady PNP — Loss Landscape", fontsize=3.2, ha="center", va="center", color="#333333")
landscape((492.5, 558.5, 597.5, 663.5), 558, (614, 588, 619, 634), surf_cp, "viridis", "cₚ PNP",
          [-1.5, -1.0, -0.5, 0.0, 0.5, 1.0, 1.5], [-1.0, -0.5, 0.0, 0.5, 1.0, 1.5])
landscape((649.5, 558.5, 754.5, 663.5), 558, (772, 588, 777, 634), surf_cn, "plasma", "cₙ PNP",
          [-3.5, -3.0, -2.5, -2.0, -1.5, -1.0, -0.5, 0.0], [-3.0, -2.5, -2.0, -1.5, -1.0, -0.5, 0.0])
landscape((806.5, 558.5, 911.5, 663.5), 558, (929, 588, 934, 634), surf_phi, "magma", "φ PNP",
          [-4, -2, 0, 2], [-3, -2, -1, 0, 1, 2])
landscape((492.5, 668.5, 597.5, 773.5), 667, (614, 698, 619, 744), surf_neu, "inferno", "Neumann BC",
          [-1.0, -0.5, 0.0, 0.5, 1.0, 1.5, 2.0, 2.5], [0.0, 0.5, 1.0, 1.5, 2.0])
landscape((649.5, 668.5, 754.5, 773.5), 667, (772, 698, 777, 744), surf_ic, "cividis", "IC",
          [-0.5, 0.0, 0.5, 1.0, 1.5, 2.0], [-0.5, 0.0, 0.5, 1.0, 1.5, 2.0])
landscape((806.5, 668.5, 911.5, 773.5), 667, (929, 698, 934, 744), surf_total, "turbo", "Total",
          [0.0, 0.5, 1.0, 1.5, 2.0, 2.5, 3.0], [0.0, 0.5, 1.0, 1.5, 2.0, 2.5, 3.0])

fig.savefig("out.png", dpi=100, facecolor="white")
